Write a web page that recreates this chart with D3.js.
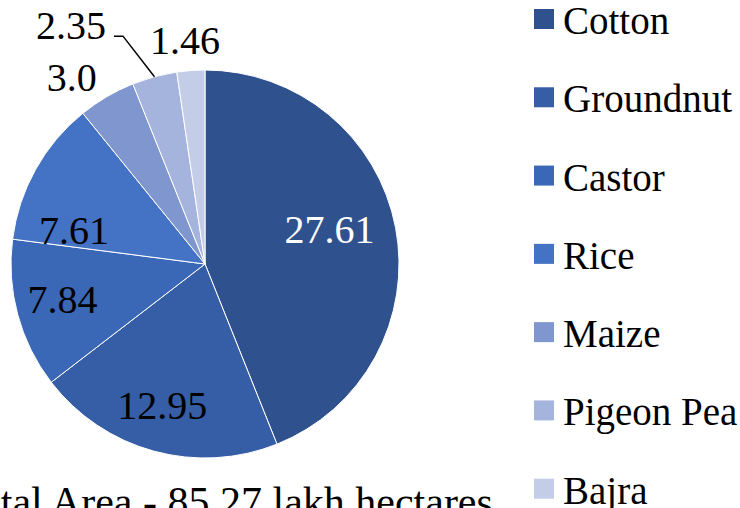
<!DOCTYPE html>
<html lang="en">
<head>
  <meta charset="UTF-8">
  <title>Crop area pie</title>
  <script src="https://d3js.org/d3.v7.min.js"></script>
  <style>
    body { margin: 0; background: white; }
    svg { display: block; }
    text { font-family: "Liberation Serif", "DejaVu Serif", "Times New Roman", Times, serif; }
    .slice { stroke: white; stroke-width: 1px; }
    .label { font-size: 40px; }
    .legend text { font-size: 39px; fill: black; }
    .leader { fill: none; stroke: black; stroke-width: 1.5px; }
  </style>
</head>
<body>
  <svg width="740" height="508"></svg>

  <script>
    // crops and area (lakh hectares)
    var crops = ["Cotton", "Groundnut", "Castor", "Rice", "Maize", "Pigeon Pea", "Bajra"];
    var areas = [27.61, 12.95, 7.84, 7.61, 3.0, 2.35, 1.46];
    var labels = ["27.61", "12.95", "7.84", "7.61", "3.0", "2.35", "1.46"];
    var colors = ["#2f528f", "#355ea6", "#3b68b6", "#4472c4", "#7f96cf", "#a5b4dc", "#c3cde7"];
    var title = "Total Area - 85.27 lakh hectares";

    // where each label sits: distance from centre and angle (deg, clockwise from top)
    var labelRadius = [129, 148, 147, 135, 229, 273, 224];
    var labelAngle = [74.8, 196.8, 255.9, 284.1, 324.4, 330.6, 354.9];
    var labelFill = ["white", "black", "black", "black", "black", "black", "black"];

    var cx = 205, cy = 264, R = 194;
    var svg = d3.select("svg");

    var data = crops.map(function (c, i) { return { crop: c, value: areas[i], i: i }; });

    var pie = d3.pie().sort(null).value(function (d) { return d.value; });
    var arc = d3.arc().innerRadius(0).outerRadius(R);

    var g = svg.append("g").attr("transform", "translate(" + cx + "," + cy + ")");

    g.selectAll(".slice")
      .data(pie(data))
      .enter().append("path")
      .attr("class", "slice")
      .attr("d", arc)
      .attr("fill", function (d) { return colors[d.data.i]; });

    function polar(r, deg) {
      var a = deg * Math.PI / 180;
      return [r * Math.sin(a), -r * Math.cos(a)];
    }

    g.selectAll(".label")
      .data(data)
      .enter().append("text")
      .attr("class", "label")
      .attr("text-anchor", "middle")
      .attr("dy", "0.33em")
      .attr("fill", function (d) { return labelFill[d.i]; })
      .attr("transform", function (d) {
        var p = polar(labelRadius[d.i], labelAngle[d.i]);
        return "translate(" + p[0] + "," + p[1] + ")";
      })
      .text(function (d) { return labels[d.i]; });

    // leader line for Pigeon Pea
    var pp = pie(data)[5];
    var edge = polar(R, (pp.startAngle + pp.endAngle) / 2 * 180 / Math.PI);
    var lbl = polar(labelRadius[5], labelAngle[5]);
    g.append("polyline")
      .attr("class", "leader")
      .attr("points", [[lbl[0] + 43, lbl[1] + 10], [lbl[0] + 52, lbl[1] + 10], edge].join(" "));

    // legend
    var legend = svg.append("g").attr("class", "legend");
    var row = d3.scaleBand().domain(crops).range([9, 557]);

    var item = legend.selectAll("g")
      .data(crops)
      .enter().append("g")
      .attr("transform", function (d) { return "translate(534," + row(d) + ")"; });

    item.append("rect")
      .attr("width", 20)
      .attr("height", 20)
      .attr("fill", function (d, i) { return colors[i]; });

    item.append("text")
      .attr("x", 29)
      .attr("y", 25)
      .text(function (d) { return d; });

    svg.append("text")
      .attr("x", -43)
      .attr("y", 516)
      .style("font-size", "42px")
      .text(title);
  </script>
</body>
</html>
